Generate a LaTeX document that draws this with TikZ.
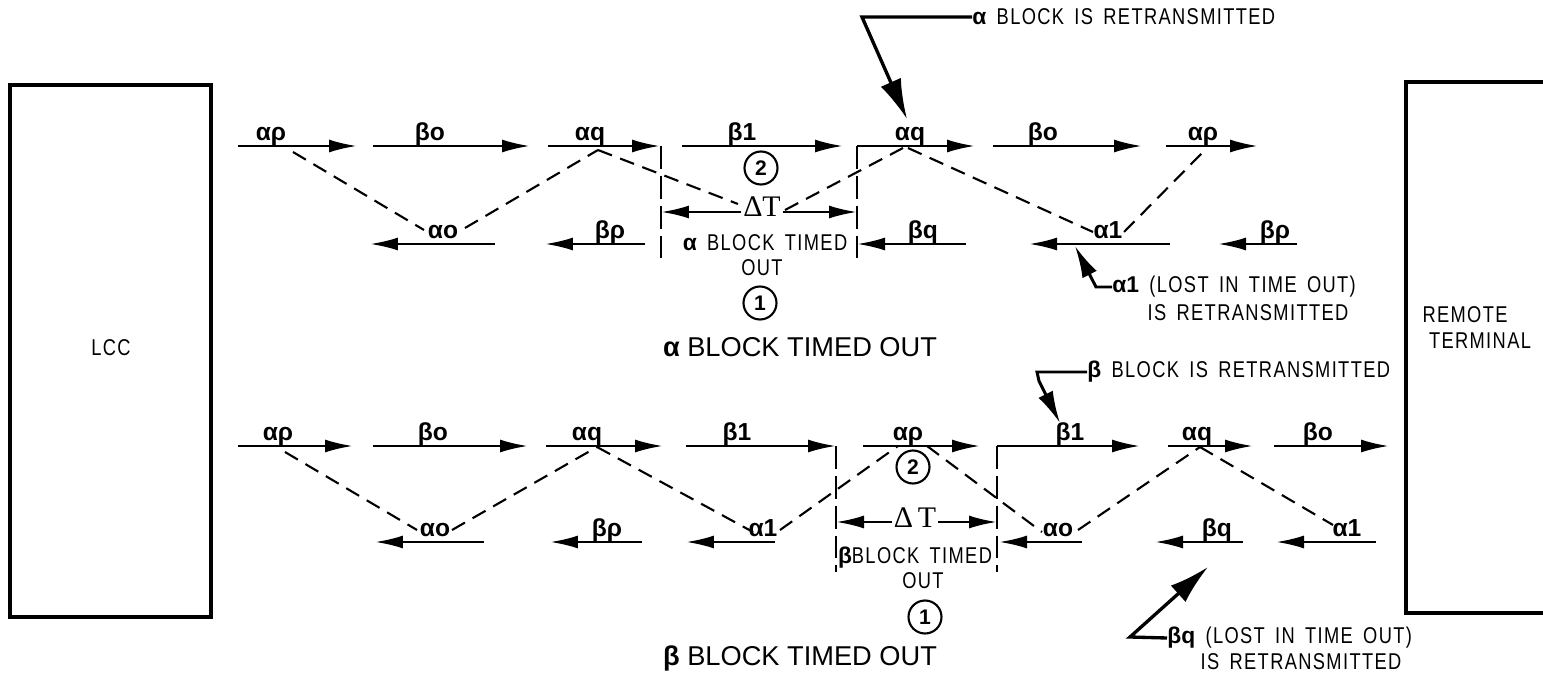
\documentclass[tikz,border=0pt]{standalone}
\usepackage{fontspec}
\setmainfont{Liberation Sans}
\newfontfamily\lett[FakeStretch=0.8,LetterSpace=6,WordSpace=1.6]{Liberation Sans}
\newfontfamily\grk{Liberation Sans}
\newfontfamily\serf{Liberation Serif}
\usetikzlibrary{arrows.meta}
\tikzset{
  msg/.style={line width=1.4pt,-{Latex[length=5.6mm,width=2.6mm]}},
  lbl/.style={font=\grk\bfseries\fontsize{14}{14}\selectfont,inner sep=0pt,anchor=base},
  dsh/.style={line width=1.2pt,dash pattern=on 8.5pt off 5pt},
  brk/.style={line width=1.5pt,dash pattern=on 13pt off 4pt},
  txt/.style={font=\lett\fontsize{13}{15}\selectfont,inner sep=0pt},
  ttl/.style={font=\fontsize{15.5}{18}\selectfont,inner sep=0pt},
  dtx/.style={font=\serf\fontsize{17}{17}\selectfont,inner sep=1pt},
  num/.style={draw,circle,line width=1.2pt,minimum size=6.6mm,inner sep=0pt,font=\bfseries\fontsize{12}{12}\selectfont},
  callA/.style={line width=1.9pt,-{Latex[length=8mm,width=4.4mm]}},
  callB/.style={line width=1.7pt,-{Latex[length=6.4mm,width=3.2mm]}},
  box/.style={line width=2.4pt},
}
\newcommand{\msgline}[6]{%
  \coordinate (#1s) at (#2,#4);
  \coordinate (#1e) at (#3,#4);
  \draw[msg] (#1s) -- (#1e);
  \node[lbl] (#1l) at ({#5},{#4-6}) {#6};}
\begin{document}
\begin{tikzpicture}[x=0.02cm,y=-0.02cm]
\useasboundingbox (0,0) rectangle (1543,676);

% ---------- end boxes ----------
\draw[box] (10,85) rectangle (211,617);
\node[txt] (lcc) at (111,348) {LCC};
\draw[box] (1550,82) -- (1406,82) -- (1406,613) -- (1550,613);
\node[txt] (rem) at (1465,315) {REMOTE};
\node[txt] (term) at (1480,341) {TERMINAL};

% ---------- row 1 : alpha block timed out ----------
\msgline{a1}{238}{357}{146}{271}{αρ}
\msgline{a2}{373}{530}{146}{430}{βo}
\msgline{a3}{548}{660}{146}{590}{αq}
\msgline{a4}{682}{843}{146}{742}{β1}
\msgline{a5}{857}{975}{146}{910}{αq}
\msgline{a6}{993}{1142}{146}{1043}{βo}
\msgline{a7}{1166}{1258}{146}{1203}{αρ}
\msgline{b1}{495}{370}{244}{443}{αo}
\msgline{b2}{645}{545}{244}{610}{βρ}
\msgline{b3}{966}{857}{244}{923}{βq}
\msgline{b4}{1170}{1029}{244}{1108}{α1}
\msgline{b5}{1297}{1218}{244}{1275}{βρ}

% brackets
\coordinate (bl1t) at (661,146); \coordinate (bl1b) at (661,258);
\coordinate (br1t) at (857,146); \coordinate (br1b) at (857,258);
\draw[brk] (bl1t) -- (bl1b);
\draw[brk] (br1t) -- (br1b);
\node[dtx] (dt1) at (762,207) {ΔT};
\coordinate (dt1l) at (661,212); \coordinate (dt1r) at (857,212);
\draw[msg] (dt1.west |- dt1l) -- (dt1l);
\draw[msg] (dt1.east |- dt1r) -- (dt1r);
\node[num] (c21) at (761,168) {2};
\node[txt] (bt1) at (765,243) {\grk\bfseries α\lett\mdseries{} BLOCK TIMED};
\node[txt] (bo1) at (762,268) {OUT};
\node[num] (c11) at (760,303) {1};
\node[ttl] (t1) at (800,347) {\bfseries α\mdseries{} BLOCK TIMED OUT};

% dashed acknowledgements row 1
\coordinate (p1) at (293,152); \coordinate (p2) at (424,230);
\coordinate (p3) at (465,228); \coordinate (p4) at (598,150);
\coordinate (p5) at (738,204);
\coordinate (p6) at (785,210); \coordinate (p7) at (903,148);
\coordinate (p8) at (908,148); \coordinate (p9) at (1093,232);
\coordinate (p10) at (1124,232); \coordinate (p11) at (1207,148);
\draw[dsh] (p1) -- (p2);
\draw[dsh] (p3) -- (p4);
\draw[dsh] (p4) -- (p5);
\draw[dsh] (p6) -- (p7);
\draw[dsh] (p8) -- (p9);
\draw[dsh] (p10) -- (p11);

% callouts row 1
\node[txt,anchor=west] (ct1) at (972,17) {\grk\bfseries α\lett\mdseries{} BLOCK IS RETRANSMITTED};
\coordinate (k1) at (862,17); \coordinate (k1t) at (907,119);
\draw[callA] (ct1.west) -- (k1) -- (k1t);
\node[txt,anchor=west] (ct2) at (1112,287) {\grk\bfseries α1\lett\mdseries{} (LOST IN TIME OUT)};
\node[txt] (ct2b) at (1248,313) {IS RETRANSMITTED};
\coordinate (k2) at (1096,287); \coordinate (k2t) at (1075,246);
\draw[callB] (ct2.west) -- (k2) -- (k2t);

% ---------- row 2 : beta block timed out ----------
\msgline{c1}{238}{353}{446}{278}{αρ}
\msgline{c2}{373}{528}{446}{433}{βo}
\msgline{c3}{546}{663}{446}{587}{αq}
\msgline{c4}{686}{836}{446}{737}{β1}
\msgline{c5}{863}{980}{446}{908}{αρ}
\msgline{c6}{997}{1140}{446}{1070}{β1}
\msgline{c7}{1168}{1253}{446}{1197}{αq}
\msgline{c8}{1274}{1389}{446}{1318}{βo}
\msgline{d1}{484}{375}{542}{435}{αo}
\msgline{d2}{642}{550}{542}{607}{βρ}
\msgline{d3}{775}{686}{542}{763}{α1}
\msgline{d4}{1082}{999}{542}{1058}{αo}
\msgline{d5}{1243}{1155}{542}{1217}{βq}
\msgline{d6}{1376}{1276}{542}{1347}{α1}

\coordinate (bl2t) at (836,446); \coordinate (bl2b) at (836,572);
\coordinate (br2t) at (997,446); \coordinate (br2b) at (997,572);
\draw[brk] (bl2t) -- (bl2b);
\draw[brk] (br2t) -- (br2b);
\node[dtx] (dt2) at (915,518) {Δ\,T};
\coordinate (dt2l) at (836,522); \coordinate (dt2r) at (997,522);
\draw[msg] (dt2.west |- dt2l) -- (dt2l);
\draw[msg] (dt2.east |- dt2r) -- (dt2r);
\node[num] (c22) at (913,467) {2};
\node[txt] (bt2) at (915,558) {\grk\bfseries β\lett\mdseries{}BLOCK TIMED};
\node[txt] (bo2) at (923,581) {OUT};
\node[num] (c12) at (925,617) {1};
\node[ttl] (t2) at (800,658) {\bfseries β\mdseries{} BLOCK TIMED OUT};

\coordinate (q1) at (285,452); \coordinate (q2) at (417,530);
\coordinate (q3) at (452,530); \coordinate (q4) at (597,447);
\coordinate (q5) at (753,532);
\coordinate (q6) at (780,530); \coordinate (q7) at (898,446);
\coordinate (q8) at (927,446); \coordinate (q9) at (1042,532);
\coordinate (q10) at (1078,530); \coordinate (q11) at (1200,447);
\coordinate (q12) at (1333,525);
\draw[dsh] (q1) -- (q2);
\draw[dsh] (q3) -- (q4);
\draw[dsh] (q4) -- (q5);
\draw[dsh] (q6) -- (q7);
\draw[dsh] (q8) -- (q9);
\draw[dsh] (q10) -- (q11);
\draw[dsh] (q11) -- (q12);

% callouts row 2
\node[txt,anchor=west] (ct3) at (1087,372) {\grk\bfseries β\lett\mdseries{} BLOCK IS RETRANSMITTED};
\coordinate (k3) at (1037,372); \coordinate (k3m) at (1039,381); \coordinate (k3t) at (1060,423);
\draw[callB] (ct3.west) -- (k3) -- (k3m) -- (k3t);
\node[txt,anchor=west] (ct4) at (1167,638) {\grk\bfseries βq\lett\mdseries{} (LOST IN TIME OUT)};
\node[txt] (ct4b) at (1301,662) {IS RETRANSMITTED};
\coordinate (k4) at (1130,637); \coordinate (k4t) at (1208,567);
\draw[callA] (ct4.west) -- (k4) -- (k4t);
\end{tikzpicture}
\end{document}
